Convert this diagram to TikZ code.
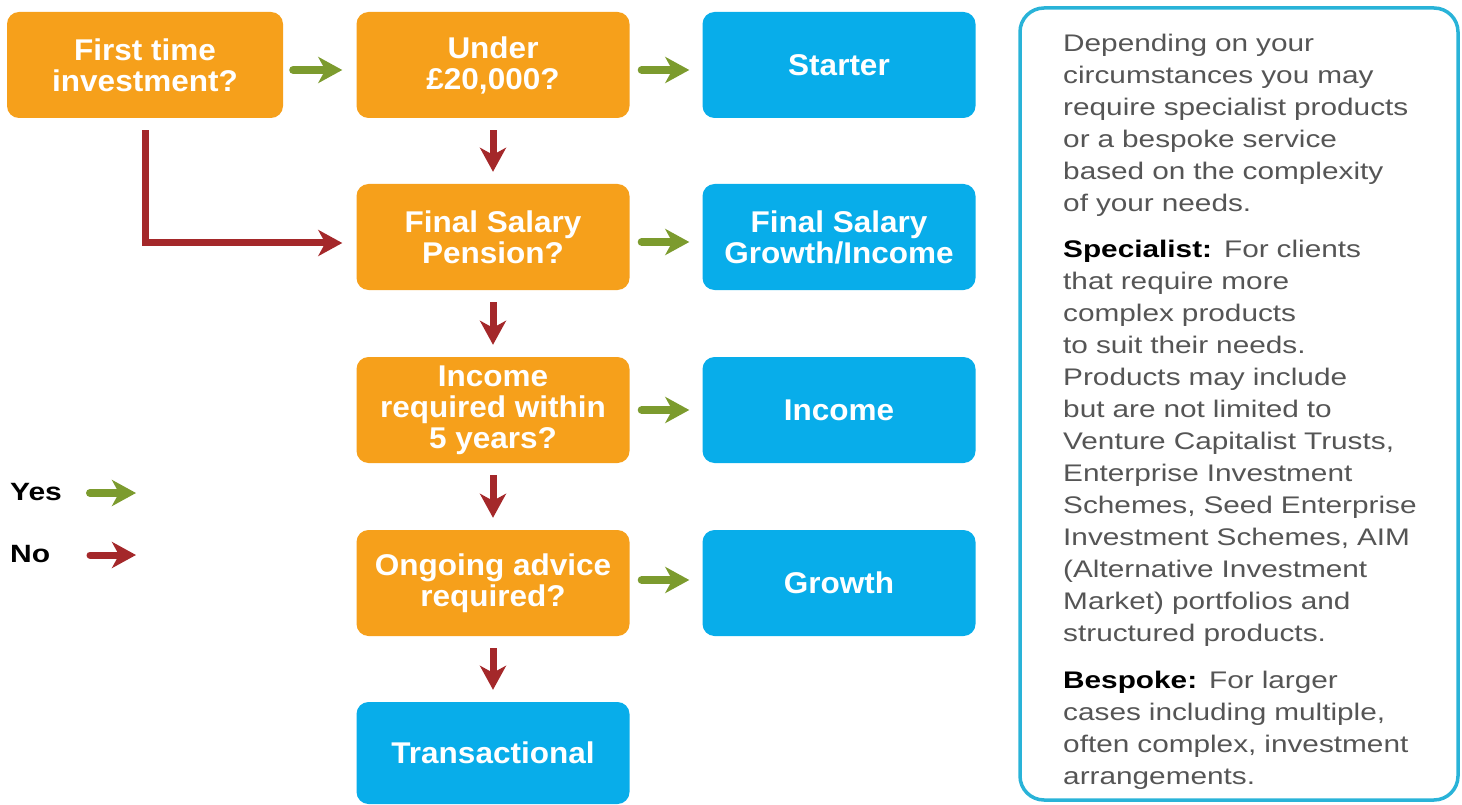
\documentclass[tikz,border=0pt]{standalone}
\usepackage{fontspec}
\usetikzlibrary{arrows.meta}
\newfontfamily\boxfont[FakeStretch=1.05]{Liberation Sans}
\newfontfamily\bodyfont[FakeStretch=1.24]{Liberation Sans}
\newfontfamily\legfont[FakeStretch=1.2]{Liberation Sans}
\definecolor{qorange}{HTML}{F6A01B}
\definecolor{ablue}{HTML}{08ADEA}
\definecolor{yesgreen}{HTML}{7C9B2E}
\definecolor{nored}{HTML}{A4282A}
\definecolor{framecyan}{HTML}{29B3D8}
\definecolor{bodygray}{HTML}{555555}
\tikzset{
  basebox/.style={rounded corners=12pt, inner sep=0pt, align=center, text=white,
    minimum width=273pt, minimum height=106pt,
    font=\boxfont\bfseries\fontsize{30}{31}\selectfont},
  qbox/.style={basebox, fill=qorange},
  abox/.style={basebox, fill=ablue},
  yesarrow/.style={draw=yesgreen, line width=8pt, line cap=round,
    -{Stealth[length=24pt, width=26pt, inset=7pt]}},
  noarrow/.style={draw=nored, line width=7pt,
    -{Stealth[length=24pt, width=26pt, inset=7pt]}},
  para/.style={anchor=base west, inner sep=0pt, text width=395pt, align=left,
    text=bodygray, font=\bodyfont\fontsize{24}{32}\selectfont},
  legend/.style={anchor=base west, inner sep=0pt, text=black,
    font=\legfont\bfseries\fontsize{25}{30}\selectfont}
}
\begin{document}
\begin{tikzpicture}[x=1pt,y=-1pt]
\useasboundingbox (0,0) rectangle (1462,805);
% question boxes
\node[qbox, minimum width=276pt] (q1) at (145,65) {First time\\investment?};
\node[qbox] (q2) at (493,65) {Under\\£20,000?};
\node[qbox] (q3) at (493,237) {Final Salary\\Pension?};
\node[qbox] (q4) at (493,410) {Income\\required within\\5 years?};
\node[qbox] (q5) at (493,583) {Ongoing advice\\required?};
% answer boxes
\node[abox] (a1) at (839,65) {Starter};
\node[abox] (a2) at (839,237) {Final Salary\\Growth/Income};
\node[abox] (a3) at (839,410) {Income};
\node[abox] (a4) at (839,583) {Growth};
\node[abox, minimum height=102pt] (a5) at (493,753) {Transactional};
% yes arrows
\draw[yesarrow, shorten <=10pt, shorten >=14pt] ([yshift=-5pt]q1.east) -- ([yshift=-5pt]q2.west);
\draw[yesarrow, shorten <=12pt, shorten >=13pt] ([yshift=-5pt]q2.east) -- ([yshift=-5pt]a1.west);
\draw[yesarrow, shorten <=12pt, shorten >=13pt] ([yshift=-5pt]q3.east) -- ([yshift=-5pt]a2.west);
\draw[yesarrow, shorten <=12pt, shorten >=13pt] (q4.east) -- (a3.west);
\draw[yesarrow, shorten <=12pt, shorten >=13pt] ([yshift=3pt]q5.east) -- ([yshift=3pt]a4.west);
% no arrows
\draw[noarrow, shorten <=12pt, shorten >=12pt] (q2.south) -- (q3.north);
\draw[noarrow, shorten <=12pt, shorten >=12pt] (q3.south) -- (q4.north);
\draw[noarrow, shorten <=12pt, shorten >=12pt] (q4.south) -- (q5.north);
\draw[noarrow, shorten <=12pt, shorten >=12pt] (q5.south) -- (a5.north);
\draw[noarrow, shorten <=12pt, shorten >=14pt] (q1.south) |- ([yshift=-6pt]q3.west);
% legend
\node[legend] (yes) at (10,500) {Yes};
\node[legend] (no) at (10,562) {No};
\coordinate (ys) at (90,493);
\coordinate (ye) at (136,493);
\coordinate (ns) at (90,555);
\coordinate (ne) at (136,555);
\draw[yesarrow] (ys) -- (ye);
\draw[noarrow, line cap=round] (ns) -- (ne);
% info panel
\node[draw=framecyan, line width=3.5pt, rounded corners=24pt, minimum width=438pt,
  minimum height=792pt, inner sep=0pt] (info) at (1239,404) {};
\node[para] (p1) at (1063,52) {Depending on your\\circumstances you may\\require specialist products\\or a bespoke service\\based on the complexity\\of your needs.};
\node[para] (p2) at (1063,258) {{\color{black}\bfseries Specialist:} For clients\\that require more\\complex products\\to suit their needs.\\Products may include\\but are not limited to\\Venture Capitalist Trusts,\\Enterprise Investment\\Schemes, Seed Enterprise\\Investment Schemes, AIM\\(Alternative Investment\\Market) portfolios and\\structured products.};
\node[para] (p3) at (1063,688) {{\color{black}\bfseries Bespoke:} For larger\\cases including multiple,\\often complex, investment\\arrangements.};
\end{tikzpicture}
\end{document}
